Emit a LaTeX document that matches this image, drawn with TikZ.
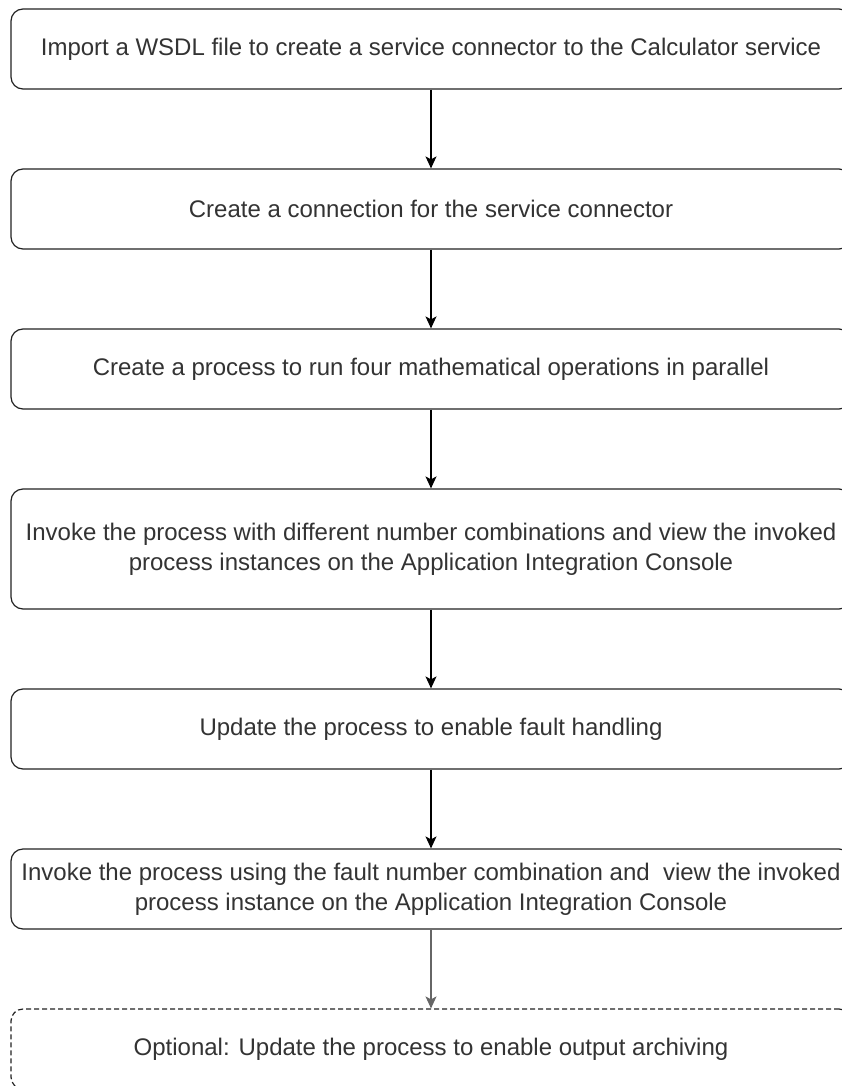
\documentclass[tikz,border=0pt]{standalone}
\usepackage{fontspec}
\setmainfont{Liberation Sans}
\usetikzlibrary{arrows.meta}
\definecolor{txt}{HTML}{333333}
\definecolor{edge}{HTML}{222222}
\definecolor{greyarrow}{HTML}{666666}
\begin{document}
\begin{tikzpicture}[x=1pt,y=-1pt,
  stepbox/.style={draw=edge, line width=1.2pt, rounded corners=12pt, fill=white,
    minimum width=840pt, minimum height=80pt, inner sep=0pt, align=center,
    text=txt, font=\fontsize{24}{30}\selectfont},
  tallbox/.style={stepbox, minimum height=120pt},
  optbox/.style={stepbox, dash pattern=on 5pt off 3pt},
  flow/.style={draw=black, line width=1.2pt, -{Stealth[length=12pt,width=11pt,inset=3pt]}},
  flowgrey/.style={flow, draw=greyarrow, -{Stealth[length=12pt,width=11pt,inset=3pt,color=greyarrow]}}
]
\useasboundingbox (0,0) rectangle (842,1086);
\node[stepbox] (b1) at (431,49) {Import a WSDL file to create a service connector to the Calculator service};
\node[stepbox] (b2) at (431,209) {Create a connection for the service connector};
\node[stepbox] (b3) at (431,369) {Create a process to run four mathematical operations in parallel};
\node[tallbox] (b4) at (431,549) {Invoke the process with different number combinations and view the invoked\\process instances on the Application Integration Console};
\node[stepbox] (b5) at (431,729) {Update the process to enable fault handling};
\node[stepbox] (b6) at (431,889) {Invoke the process using the fault number combination and ~view the invoked\\process instance on the Application Integration Console};
\node[optbox] (b7) at (431,1049) {Optional: Update the process to enable output archiving};
\draw[flow] (b1) -- (b2);
\draw[flow] (b2) -- (b3);
\draw[flow] (b3) -- (b4);
\draw[flow] (b4) -- (b5);
\draw[flow] (b5) -- (b6);
\draw[flowgrey] (b6) -- (b7);
\end{tikzpicture}
\end{document}
